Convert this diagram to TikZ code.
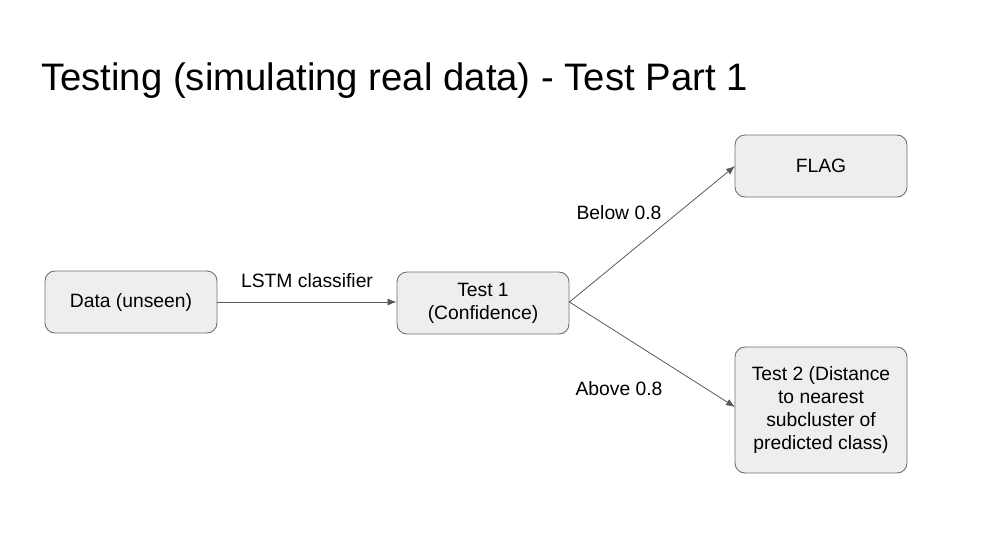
\documentclass[tikz,border=0pt]{standalone}
\usepackage{fontspec}
\setmainfont{Liberation Sans}
\usetikzlibrary{arrows.meta}
\definecolor{boxfill}{HTML}{EEEEEE}
\definecolor{boxdraw}{HTML}{707070}
\definecolor{arr}{HTML}{595959}
\begin{document}
\begin{tikzpicture}[x=1pt,y=-1pt,
  box/.style={draw=boxdraw,fill=boxfill,rounded corners=10pt,line width=0.9pt,
    minimum width=172pt,minimum height=62pt,align=center,inner sep=2pt,
    font=\fontsize{19.3}{23.2}\selectfont},
  conn/.style={draw=arr,line width=0.8pt,-{Latex[length=9pt,width=7pt]}},
  lbl/.style={font=\fontsize{19.3}{23.2}\selectfont}]
\path[use as bounding box] (0,0) rectangle (986,550);
\node[anchor=base west,inner sep=0pt,font=\fontsize{38.3}{44}\selectfont] (title) at (41,90) {Testing (simulating real data) - Test Part 1};
\node[box] (data) at (131,302) {Data (unseen)};
\node[box] (t1) at (483,303) {Test 1\\(Confidence)};
\node[box] (flag) at (821,166) {FLAG};
\node[box,minimum height=126pt] (t2) at (821,410) {Test 2 (Distance\\to nearest\\subcluster of\\predicted class)};
\coordinate (f) at (735,166);
\coordinate (g) at (735,407);
\draw[conn] (data.east) -- (t1.west |- data.east);
\draw[conn] (t1.east |- data.east) -- (f);
\draw[conn] (t1.east |- data.east) -- (g);
\node[lbl] (l1) at (307,281) {LSTM classifier};
\node[lbl] (l2) at (619,213) {Below 0.8};
\node[lbl] (l3) at (619,389) {Above 0.8};
\end{tikzpicture}
\end{document}
